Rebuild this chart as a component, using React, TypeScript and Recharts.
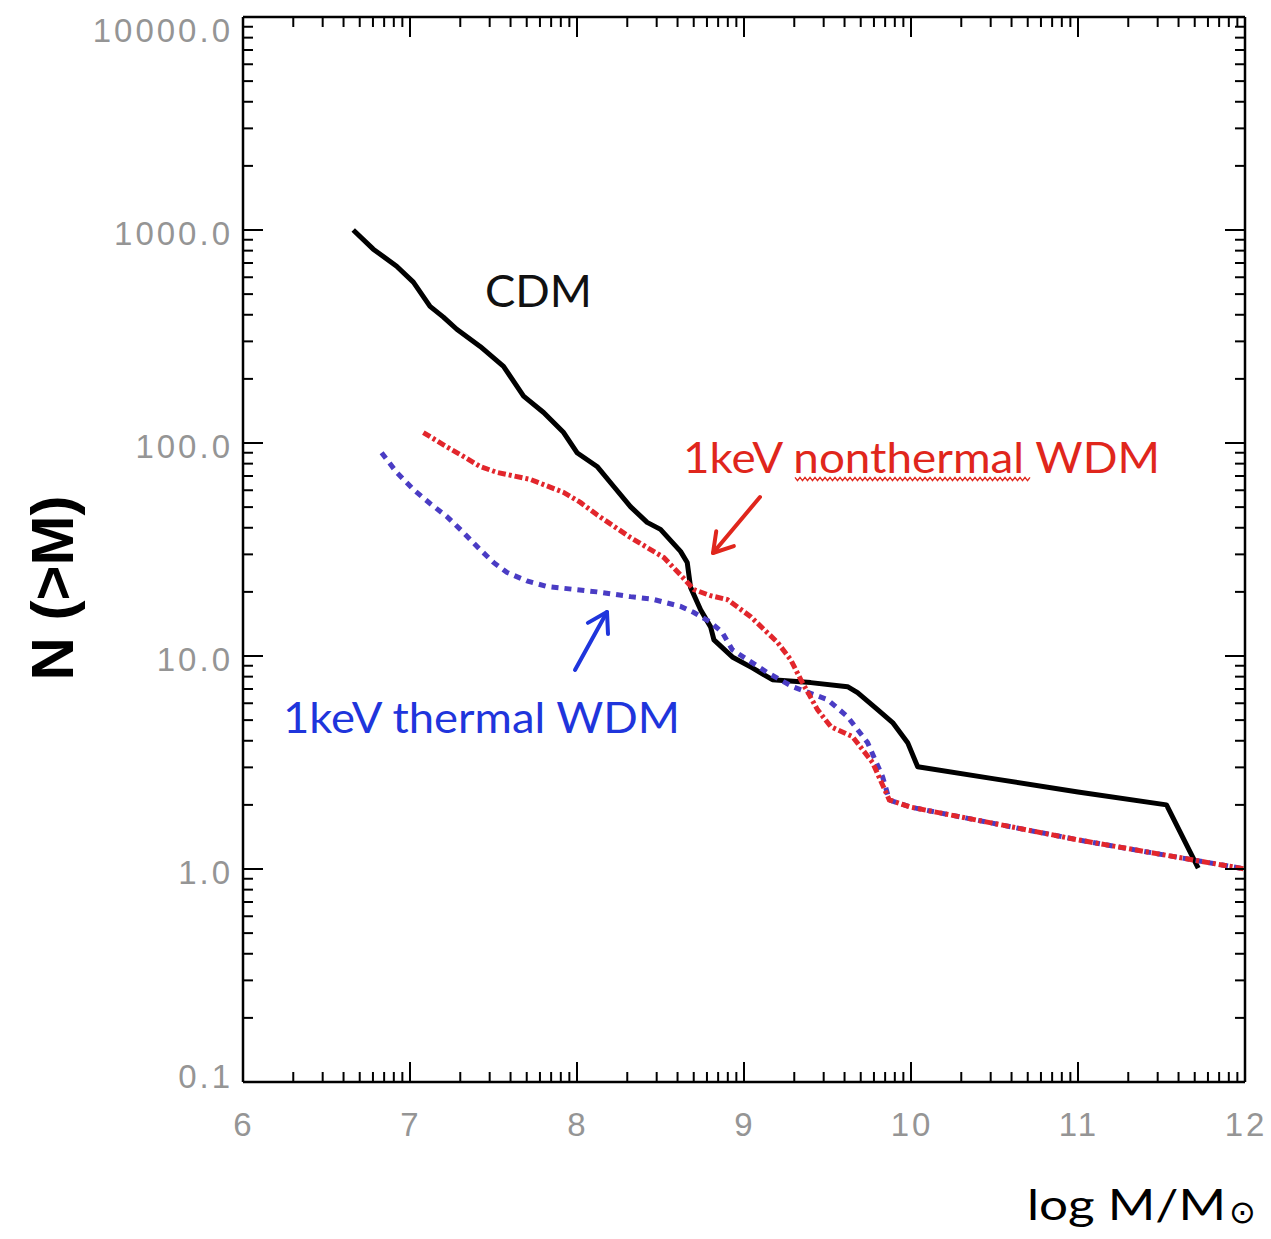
import React from 'react';
import { LineChart, Line, XAxis, YAxis } from 'recharts';

// ---- data (log M/Msun, N(>M)) ----
const cdmLogM = [6.66, 6.78, 6.92, 7.02, 7.12, 7.2, 7.28, 7.42, 7.56, 7.68, 7.8, 7.92, 8.0, 8.12, 8.22, 8.32, 8.42, 8.5, 8.62, 8.66, 8.68, 8.74, 8.8, 8.82, 8.93, 9.05, 9.17, 9.4, 9.62, 9.68, 9.8, 9.89, 9.98, 10.04, 10.5, 11.0, 11.53, 11.72];
const cdmN = [1000, 813, 676, 569, 438, 390, 342, 284, 229, 166, 139, 112, 90, 77.6, 62.5, 50.3, 42.4, 39.3, 31, 27.5, 21, 16.5, 13.7, 11.9, 9.9, 8.8, 7.74, 7.5, 7.18, 6.73, 5.6, 4.87, 3.92, 3.02, 2.65, 2.3, 2.0, 1.01];

const nonthermalLogM = [7.08, 7.22, 7.32, 7.42, 7.52, 7.72, 7.92, 8.02, 8.12, 8.32, 8.52, 8.62, 8.7, 8.8, 8.9, 9.04, 9.2, 9.28, 9.34, 9.44, 9.52, 9.65, 9.77, 9.87, 10.0, 11.0, 12.0];
const nonthermalN = [112, 96, 86.5, 77.6, 72.8, 67.5, 58.6, 52.6, 46, 36, 29, 24, 20.5, 19.2, 18.4, 15.3, 11.6, 9.6, 7.74, 5.6, 4.66, 4.18, 3.16, 2.11, 1.95, 1.37, 1.0];

const thermalLogM = [6.83, 6.92, 7.02, 7.12, 7.22, 7.32, 7.42, 7.5, 7.58, 7.7, 7.82, 8.12, 8.32, 8.45, 8.62, 8.7, 8.8, 8.87, 8.93, 9.14, 9.29, 9.5, 9.62, 9.74, 9.83, 9.87, 10.0, 11.0, 12.0];
const thermalN = [90, 72.8, 60.5, 52, 45.2, 38, 31.6, 27.5, 24.7, 22.5, 21.2, 20, 19, 18.5, 17.1, 16, 14.4, 12.9, 10.7, 8.36, 7.18, 6.24, 5.19, 3.92, 2.71, 2.11, 1.95, 1.37, 1.0];

const xMajorTicks = [6, 7, 8, 9, 10, 11, 12];
const yMajorTicks = [0.1, 1, 10, 100, 1000, 10000];
const minorMultipliers = [2, 3, 4, 5, 6, 7, 8, 9];

const toRows = (xs: number[], ys: number[]) => xs.map((x, i) => ({ x, n: ys[i] }));
const cdmData = toRows(cdmLogM, cdmN);
const nonthermalData = toRows(nonthermalLogM, nonthermalN);
const thermalData = toRows(thermalLogM, thermalN);

const xTicks: number[] = [];
xMajorTicks.forEach((m, i) => {
  xTicks.push(m);
  if (i < xMajorTicks.length - 1) minorMultipliers.forEach((k) => xTicks.push(m + Math.log10(k)));
});
const yTicks: number[] = [];
yMajorTicks.forEach((v, i) => {
  yTicks.push(v);
  if (i < yMajorTicks.length - 1) minorMultipliers.forEach((k) => yTicks.push(+(v * k).toPrecision(6)));
});

const isMajorX = (v: number) => Math.abs(v - Math.round(v)) < 1e-6;
const isMajorY = (v: number) => { const l = Math.log10(v); return Math.abs(l - Math.round(l)) < 1e-6; };

const MAJOR = 20;
const MINOR = 10;
const TICK_FONT = { fontFamily: '"Liberation Sans", Arial, sans-serif', fontSize: 33, fill: '#959595', letterSpacing: 3 };

const BottomTick = (p: any) => {
  const { x, y, payload } = p;
  const v = payload.value;
  const major = isMajorX(v);
  return (
    <g>
      <line x1={x} x2={x} y1={y} y2={y - (major ? MAJOR : MINOR)} stroke="#000" strokeWidth={2} />
      {major && <text x={x + 1} y={y + 54} textAnchor="middle" {...TICK_FONT}>{String(v)}</text>}
    </g>
  );
};
const TopTick = (p: any) => {
  const { x, y, payload } = p;
  const major = isMajorX(payload.value);
  return <line x1={x} x2={x} y1={y} y2={y + (major ? MAJOR : MINOR)} stroke="#000" strokeWidth={2} />;
};
const LeftTick = (p: any) => {
  const { x, y, payload } = p;
  const v = payload.value;
  const major = isMajorY(v);
  const cy = Math.min(Math.max(y + 3, 30), 1076);
  return (
    <g>
      <line x1={x} x2={x + (major ? MAJOR : MINOR)} y1={y} y2={y} stroke="#000" strokeWidth={2} />
      {major && <text x={x - 10} y={cy + 12} textAnchor="end" {...TICK_FONT}>{v.toFixed(1)}</text>}
    </g>
  );
};
const RightTick = (p: any) => {
  const { x, y, payload } = p;
  const major = isMajorY(payload.value);
  return <line x1={x} x2={x - (major ? MAJOR : MINOR)} y1={y} y2={y} stroke="#000" strokeWidth={2} />;
};

const Arrow = ({ x1, y1, x2, y2, color }: { x1: number; y1: number; x2: number; y2: number; color: string }) => {
  const ang = Math.atan2(y2 - y1, x2 - x1);
  const L = 22, a = 0.55;
  const p1 = [x2 - L * Math.cos(ang - a), y2 - L * Math.sin(ang - a)];
  const p2 = [x2 - L * Math.cos(ang + a), y2 - L * Math.sin(ang + a)];
  return (
    <g stroke={color} strokeWidth={4} fill="none" strokeLinecap="round" strokeLinejoin="round">
      <line x1={x1} y1={y1} x2={x2} y2={y2} />
      <polyline points={`${p1[0]},${p1[1]} ${x2},${y2} ${p2[0]},${p2[1]}`} />
    </g>
  );
};

const squiggle = (() => {
  const pts: string[] = [];
  for (let x = 795, i = 0; x <= 1032; x += 2.5, i++) pts.push(`${x},${479 + (i % 2 ? 1.6 : -1.6)}`);
  return pts.join(' ');
})();

const ANNOT_FONT = 'Lato, "Open Sans", sans-serif';
const AXIS_LINE = { stroke: '#000', strokeWidth: 2.5 };

export default function App() {
  return (
    <div style={{ position: 'absolute', left: 0, top: 0, width: 1271, height: 1239, background: '#fff' }}>
      <LineChart width={1271} height={1239} margin={{ top: 16, right: 25, bottom: 156, left: 242 }}>
        <XAxis xAxisId="b" dataKey="x" type="number" domain={[6, 12]} ticks={xTicks} interval={0} allowDataOverflow
          height={1} tickSize={0} tickMargin={0} tickLine={false} axisLine={AXIS_LINE} tick={(p: any) => <BottomTick {...p} />} />
        <XAxis xAxisId="t" orientation="top" dataKey="x" type="number" domain={[6, 12]} ticks={xTicks} interval={0} allowDataOverflow
          height={1} tickSize={0} tickMargin={0} tickLine={false} axisLine={AXIS_LINE} tick={(p: any) => <TopTick {...p} />} />
        <YAxis yAxisId="l" type="number" scale="log" domain={[0.1, 10000]} ticks={yTicks} interval={0} allowDataOverflow
          width={1} tickSize={0} tickMargin={0} tickLine={false} axisLine={AXIS_LINE} tick={(p: any) => <LeftTick {...p} />} />
        <YAxis yAxisId="r" orientation="right" type="number" scale="log" domain={[0.1, 10000]} ticks={yTicks} interval={0} allowDataOverflow
          width={1} tickSize={0} tickMargin={0} tickLine={false} axisLine={AXIS_LINE} tick={(p: any) => <RightTick {...p} />} />
        <Line data={cdmData} dataKey="n" xAxisId="b" yAxisId="l" type="linear" stroke="#000" strokeWidth={5}
          strokeLinejoin="round" dot={false} activeDot={false} isAnimationActive={false} />
        <Line data={thermalData} dataKey="n" xAxisId="b" yAxisId="l" type="linear" stroke="#4a3cc4" strokeWidth={5}
          strokeDasharray="7 6" dot={false} activeDot={false} isAnimationActive={false} />
        <Line data={nonthermalData} dataKey="n" xAxisId="b" yAxisId="l" type="linear" stroke="#e2262c" strokeWidth={5}
          strokeDasharray="8 3 3 3" dot={false} activeDot={false} isAnimationActive={false} />
        {/* keep top/right axes alive */}
        <Line data={nonthermalData} dataKey="n" xAxisId="t" yAxisId="r" stroke="none" strokeWidth={0} dot={false} activeDot={false} isAnimationActive={false} legendType="none" />
      </LineChart>
      <svg width={1271} height={1239} style={{ position: 'absolute', left: 0, top: 0, pointerEvents: 'none' }}>
        <text x={52} y={588} transform="rotate(-90 52 588)" textAnchor="middle" dominantBaseline="central"
          fontFamily='"Liberation Sans", Arial, sans-serif' fontWeight="bold" fontSize={60} fill="#000">N (&gt;M)</text>
        <text x={1027} y={1220} fontFamily={ANNOT_FONT} fontSize={43} fill="#000" textLength={199} lengthAdjust="spacingAndGlyphs">log M/M</text>
        <text x={1229} y={1223} fontFamily='"DejaVu Sans", sans-serif' fontSize={32} fill="#000">⊙</text>
        <text x={485} y={307} fontFamily={ANNOT_FONT} fontSize={44} fill="#111" textLength={107} lengthAdjust="spacingAndGlyphs">CDM</text>
        <text x={683} y={473} fontFamily={ANNOT_FONT} fontSize={42} fill="#e0261c" textLength={477} lengthAdjust="spacingAndGlyphs">1keV nonthermal WDM</text>
        <polyline points={squiggle} stroke="#e0261c" strokeWidth={1.3} fill="none" />
        <text x={283} y={733} fontFamily={ANNOT_FONT} fontSize={43} fill="#1f35dc" textLength={397} lengthAdjust="spacingAndGlyphs">1keV thermal WDM</text>
        <Arrow x1={760} y1={497} x2={713} y2={553} color="#e0261c" />
        <Arrow x1={575} y1={670} x2={607} y2={612} color="#1f35dc" />
      </svg>
    </div>
  );
}
